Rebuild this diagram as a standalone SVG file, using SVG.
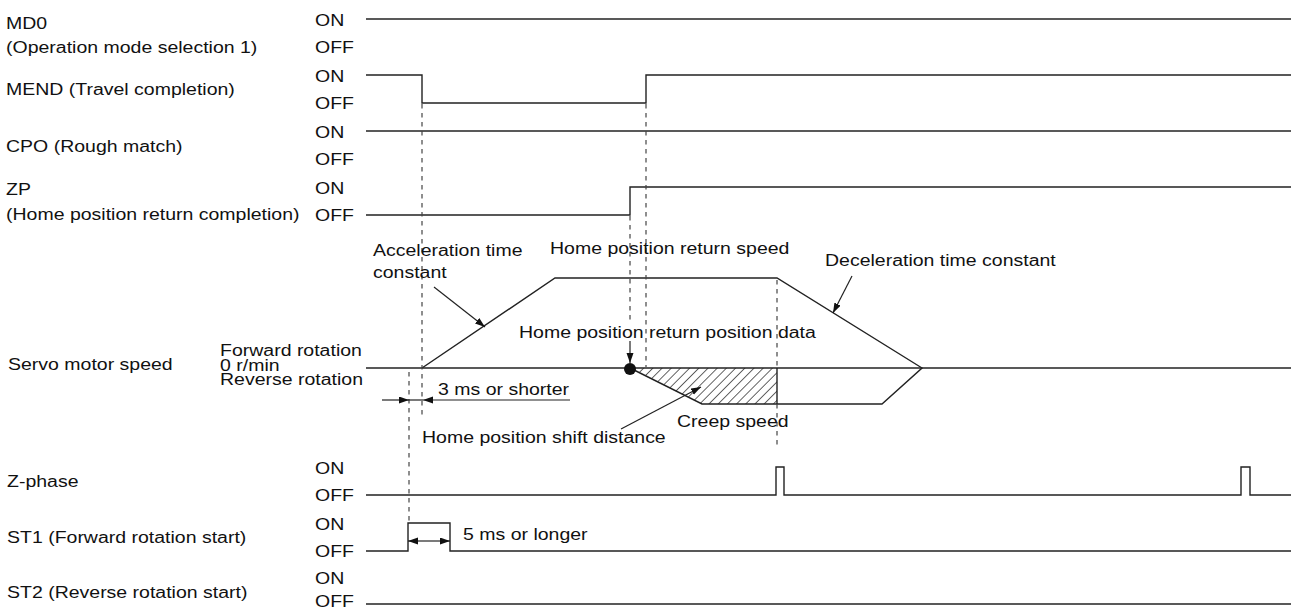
<svg xmlns="http://www.w3.org/2000/svg" width="1291" height="612" viewBox="0 0 1291 612">
<style>
text{font-family:"Liberation Sans",Arial,sans-serif;font-size:17.3px;fill:#111}
.sig{fill:none;stroke:#222;stroke-width:1.4}
.dash{fill:none;stroke:#444;stroke-width:1.2;stroke-dasharray:4.5 4.5}
.lead{fill:none;stroke:#222;stroke-width:1.2}
</style>
<defs>
<marker id="ah" markerUnits="userSpaceOnUse" markerWidth="11" markerHeight="8" refX="10" refY="3.5" orient="auto">
<path d="M0,0 L10,3.5 L0,7 z" fill="#111"/>
</marker>
<pattern id="hatch" width="6.5" height="6.5" patternUnits="userSpaceOnUse" patternTransform="rotate(45)">
<line x1="0" y1="0" x2="0" y2="6.5" stroke="#111" stroke-width="1.3"/>
</pattern>
</defs>
<rect width="1291" height="612" fill="#fff"/>

<g id="md0">
<text transform="matrix(1.127 0 0 1 6 29)">MD0</text>
<text transform="matrix(1.127 0 0 1 6 53)">(Operation mode selection 1)</text>
<text transform="matrix(1.127 0 0 1 315 26)">ON</text>
<text transform="matrix(1.127 0 0 1 315 53)">OFF</text>
<path class="sig" d="M366,19 H1291"/>
</g>

<g id="mend">
<text transform="matrix(1.127 0 0 1 6 95)">MEND (Travel completion)</text>
<text transform="matrix(1.127 0 0 1 315 82)">ON</text>
<text transform="matrix(1.127 0 0 1 315 109)">OFF</text>
<path class="sig" d="M366,75 H422 V103 H646 V75 H1291"/>
</g>

<g id="cpo">
<text transform="matrix(1.127 0 0 1 6 152)">CPO (Rough match)</text>
<text transform="matrix(1.127 0 0 1 315 138)">ON</text>
<text transform="matrix(1.127 0 0 1 315 165)">OFF</text>
<path class="sig" d="M366,131 H1291"/>
</g>

<g id="zp">
<text transform="matrix(1.127 0 0 1 6 195)">ZP</text>
<text transform="matrix(1.127 0 0 1 6 220)">(Home position return completion)</text>
<text transform="matrix(1.127 0 0 1 315 194)">ON</text>
<text transform="matrix(1.127 0 0 1 315 221)">OFF</text>
<path class="sig" d="M366,215 H630 V187 H1291"/>
</g>

<g id="speed">
<text transform="matrix(1.127 0 0 1 8 370)">Servo motor speed</text>
<text transform="matrix(1.127 0 0 1 220 356)">Forward rotation</text>
<text transform="matrix(1.127 0 0 1 220 371)">0 r/min</text>
<text transform="matrix(1.127 0 0 1 220 385)">Reverse rotation</text>
<polygon points="630,368 777,368 777,404 702,404" fill="url(#hatch)" stroke="none"/>
<path class="sig" d="M366,368 H1291"/>
<path class="sig" d="M422,368 L555,278 H777 L922,368 L882,404 H702 L630,368"/>
<path class="sig" d="M777,368 V404"/>
<circle cx="630" cy="369" r="6" fill="#111"/>
</g>

<g id="zphase">
<text transform="matrix(1.127 0 0 1 7 487)">Z-phase</text>
<text transform="matrix(1.127 0 0 1 315 474)">ON</text>
<text transform="matrix(1.127 0 0 1 315 501)">OFF</text>
<path class="sig" d="M366,495 H776 V467 H784 V495 H1241 V467 H1250 V495 H1291"/>
</g>

<g id="st1">
<text transform="matrix(1.127 0 0 1 7 543)">ST1 (Forward rotation start)</text>
<text transform="matrix(1.127 0 0 1 315 530)">ON</text>
<text transform="matrix(1.127 0 0 1 315 557)">OFF</text>
<path class="sig" d="M366,551 H408 V523 H450 V551 H1291"/>
</g>

<g id="st2">
<text transform="matrix(1.127 0 0 1 7 598)">ST2 (Reverse rotation start)</text>
<text transform="matrix(1.127 0 0 1 315 584)">ON</text>
<text transform="matrix(1.127 0 0 1 315 607)">OFF</text>
<path class="sig" d="M366,604 H1291"/>
</g>

<g id="connectors">
<path class="dash" d="M422,104 V416"/>
<path class="dash" d="M409,372 V523"/>
<path class="dash" d="M630,216 V322"/>
<path class="dash" d="M646,104 V367"/>
<path class="dash" d="M777,280 V368 M777,404 V448"/>
<path class="lead" d="M434,287 L485,327" marker-end="url(#ah)"/>
<path class="lead" d="M852,276 L833,313" marker-end="url(#ah)"/>
<path class="lead" d="M630,341 L630,363" marker-end="url(#ah)"/>
<path class="lead" d="M621,429 L701,387" marker-end="url(#ah)"/>
<path class="lead" d="M382,400 L409,400" marker-end="url(#ah)"/>
<path class="lead" d="M409,400 L423,400"/>
<path class="lead" d="M570,400 L423,400" marker-end="url(#ah)"/>
<path class="lead" d="M429,541 L408,541" marker-end="url(#ah)"/>
<path class="lead" d="M429,541 L450,541" marker-end="url(#ah)"/>
</g>

<g id="labels">
<text transform="matrix(1.127 0 0 1 373 256)">Acceleration time</text>
<text transform="matrix(1.127 0 0 1 373 278)">constant</text>
<text transform="matrix(1.127 0 0 1 550 254)">Home position return speed</text>
<text transform="matrix(1.127 0 0 1 825 266)">Deceleration time constant</text>
<text transform="matrix(1.127 0 0 1 519 338)">Home position return position data</text>
<text transform="matrix(1.127 0 0 1 438 395)">3 ms or shorter</text>
<text transform="matrix(1.127 0 0 1 422 443)">Home position shift distance</text>
<text transform="matrix(1.127 0 0 1 677 427)">Creep speed</text>
<text transform="matrix(1.127 0 0 1 463 540)">5 ms or longer</text>
</g>
</svg>
